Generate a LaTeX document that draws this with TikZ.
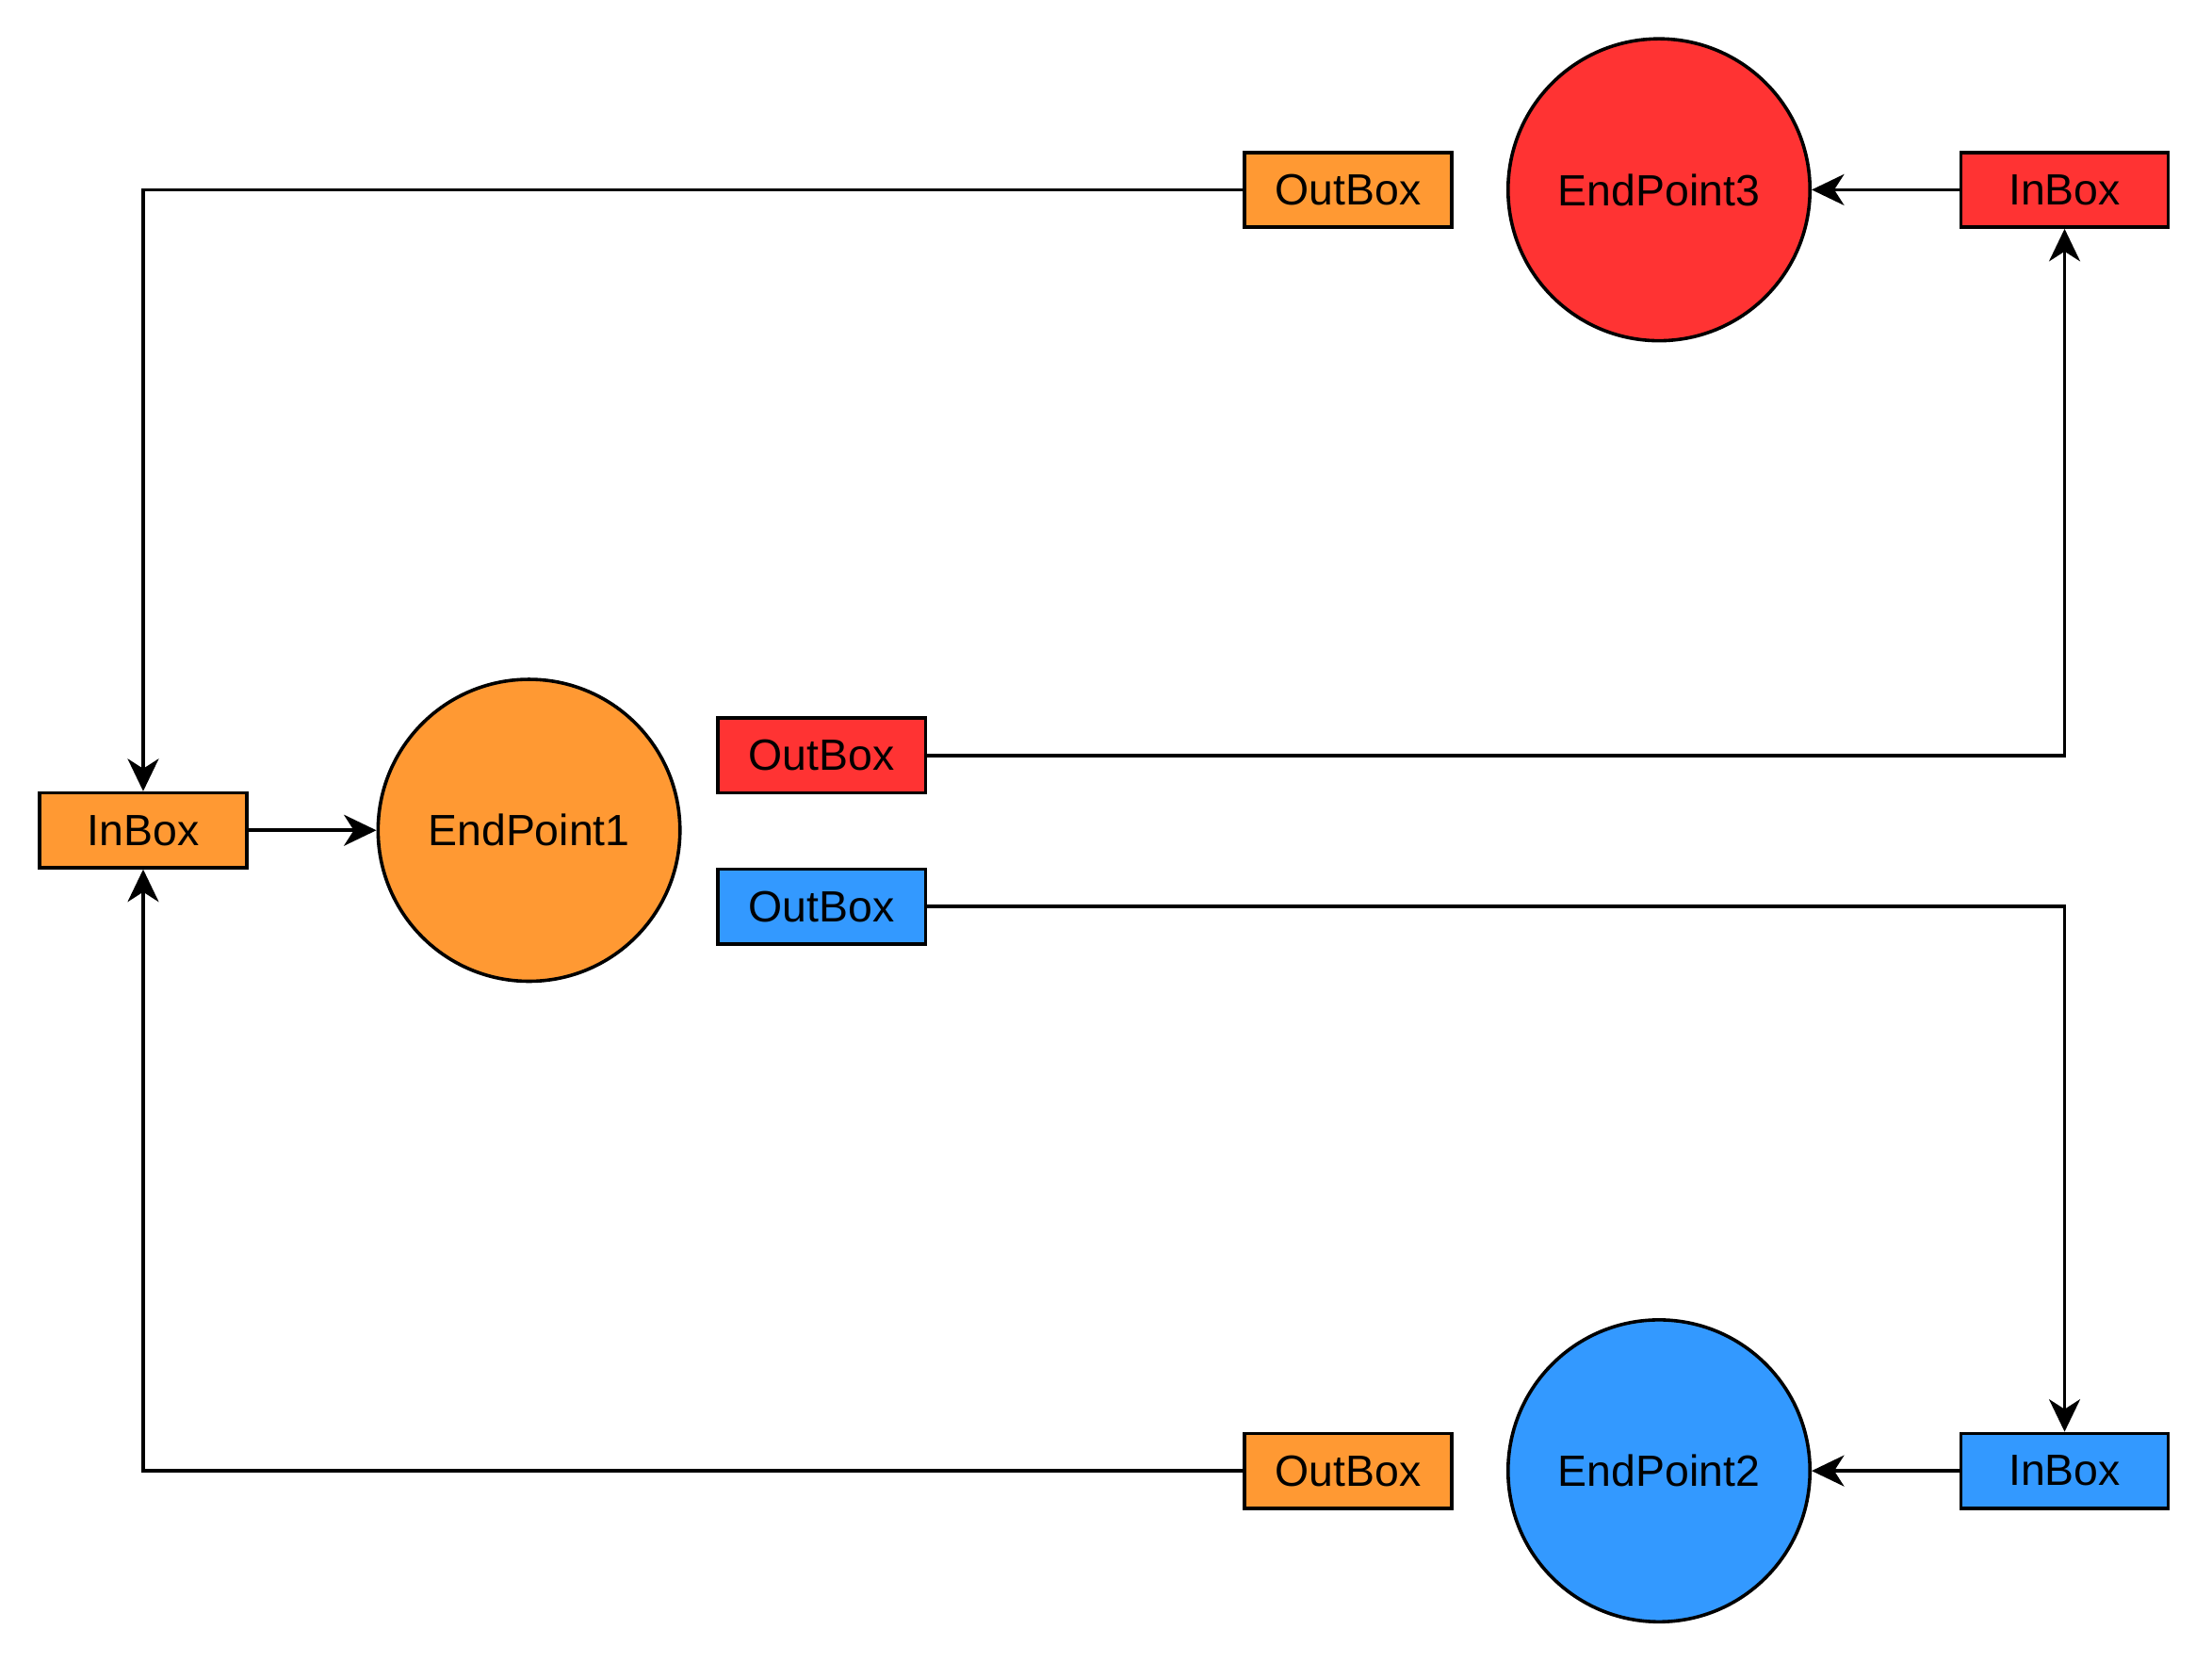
\documentclass[tikz,border=0pt]{standalone}
\usepackage{fontspec}
\setmainfont{Liberation Sans}
\usetikzlibrary{arrows.meta}
\definecolor{cOrange}{HTML}{FF9933}
\definecolor{cRed}{HTML}{FF3333}
\definecolor{cBlue}{HTML}{3399FF}
\begin{document}
\begin{tikzpicture}[x=1pt,y=-1pt,
  every node/.style={font=\fontsize{31}{36}\selectfont},
  boxnode/.style={draw=black, line width=2.4pt, rectangle, minimum width=147pt, minimum height=53pt, inner sep=0pt},
  epnode/.style={draw=black, line width=2.4pt, circle, minimum size=214pt, inner sep=0pt},
  arr/.style={draw=black, line width=2.4pt, -{Stealth[length=23pt,width=22pt,inset=7pt]}}
]
\useasboundingbox (0,0) rectangle (1568,1178);
% left
\node[boxnode, fill=cOrange] (ib1) at (101.5,588.5) {InBox};
\node[epnode, fill=cOrange] (ep1) at (375,588.5) {EndPoint1};
\node[boxnode, fill=cRed] (obr) at (582.5,535.5) {OutBox};
\node[boxnode, fill=cBlue] (obb) at (582.5,642.5) {OutBox};
% top
\node[boxnode, fill=cOrange] (obt) at (955.5,134.5) {OutBox};
\node[epnode, fill=cRed] (ep3) at (1176,134.5) {EndPoint3};
\node[boxnode, fill=cRed] (ibr) at (1463.5,134.5) {InBox};
% bottom
\node[boxnode, fill=cOrange] (obo) at (955.5,1042.5) {OutBox};
\node[epnode, fill=cBlue] (ep2) at (1176,1042.5) {EndPoint2};
\node[boxnode, fill=cBlue] (ibb) at (1463.5,1042.5) {InBox};
% connectors
\draw[arr] (obt.west) -| (ib1.north);
\draw[arr] (obo.west) -| (ib1.south);
\draw[arr] (ib1) -- (ep1);
\draw[arr] (obr.east) -| (ibr.south);
\draw[arr] (ibr) -- (ep3);
\draw[arr] (obb.east) -| (ibb.north);
\draw[arr] (ibb) -- (ep2);
\end{tikzpicture}
\end{document}
